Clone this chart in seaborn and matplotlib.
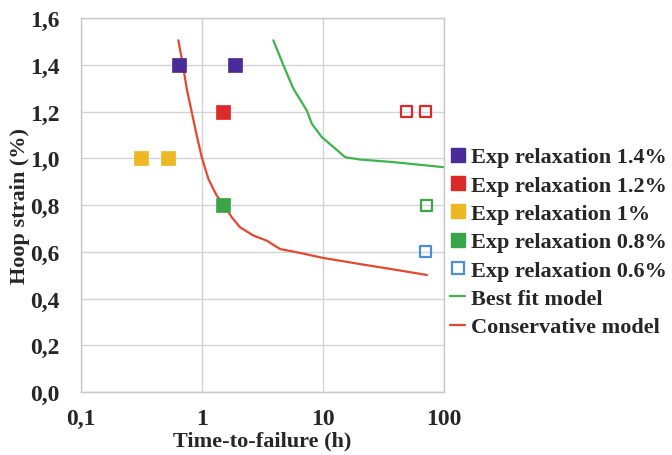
import matplotlib
matplotlib.use("Agg")
import matplotlib.pyplot as plt
import seaborn as sns
import numpy as np
from matplotlib.lines import Line2D
from matplotlib.ticker import FixedLocator, FuncFormatter, LogLocator, NullFormatter

# ---- data ----
exp14_t = [0.65, 1.88]
exp14_s = [1.4, 1.4]
exp12_t = [1.48]
exp12_s = [1.2]
exp12_open_t = [49.0, 70.0]
exp12_open_s = [1.2, 1.2]
exp10_t = [0.315, 0.52]
exp10_s = [1.0, 1.0]
exp08_t = [1.5]
exp08_s = [0.8]
exp08_open_t = [72.0]
exp08_open_s = [0.8]
exp06_open_t = [70.0]
exp06_open_s = [0.6]

best_t = [3.88, 4.70, 5.68, 7.33, 8.07, 9.75, 12.2, 15.2, 20.2, 38.1, 100.0]
best_s = [1.505, 1.398, 1.298, 1.205, 1.148, 1.091, 1.048, 1.005, 0.995, 0.984, 0.962]
cons_t = [0.637, 0.692, 0.747, 0.822, 0.904, 0.994, 1.128, 1.32, 1.50, 1.76, 2.06, 2.65, 3.42, 4.41,
          6.5, 10.0, 20.0, 40.0, 72.0]
cons_s = [1.505, 1.405, 1.298, 1.198, 1.098, 1.005, 0.912, 0.841, 0.805, 0.748, 0.705, 0.670, 0.648, 0.612,
          0.595, 0.574, 0.548, 0.523, 0.501]

legend_labels = ["Exp relaxation 1.4%", "Exp relaxation 1.2%", "Exp relaxation 1%",
                 "Exp relaxation 0.8%", "Exp relaxation 0.6%", "Best fit model", "Conservative model"]
y_ticks = [0.0, 0.2, 0.4, 0.6, 0.8, 1.0, 1.2, 1.4, 1.6]
x_ticks = [0.1, 1, 10, 100]

c_purple = "#4a2c98"
c_red = "#dc2a2b"
c_yellow = "#edb823"
c_green = "#3aa547"
c_blue = "#4a90d8"
c_bestline = "#3db54a"
c_consline = "#e6472f"

sns.set_style("white")
plt.rcParams['font.family'] = ['Liberation Serif', 'DejaVu Serif']
plt.rcParams['font.weight'] = 'bold'

fig = plt.figure(figsize=(6.72, 4.56), dpi=100)
ax = fig.add_axes([0.1205, 0.138, 0.5405, 0.82])

sns.lineplot(x=best_t, y=best_s, ax=ax, color=c_bestline, lw=1.6, sort=False, estimator=None)
sns.lineplot(x=cons_t, y=cons_s, ax=ax, color=c_consline, lw=1.6, sort=False, estimator=None)

ms = 95
sns.scatterplot(x=exp14_t, y=exp14_s, ax=ax, marker='s', s=ms, color=c_purple, edgecolor=c_purple, linewidth=0.5, zorder=5)
sns.scatterplot(x=exp12_t, y=exp12_s, ax=ax, marker='s', s=ms, color=c_red, edgecolor=c_red, linewidth=0.5, zorder=5)
sns.scatterplot(x=exp10_t, y=exp10_s, ax=ax, marker='s', s=ms, color=c_yellow, edgecolor=c_yellow, linewidth=0.5, zorder=5)
sns.scatterplot(x=exp08_t, y=exp08_s, ax=ax, marker='s', s=ms, color=c_green, edgecolor=c_green, linewidth=0.5, zorder=5)
sns.scatterplot(x=exp12_open_t, y=exp12_open_s, ax=ax, marker='s', s=64, facecolor='none', edgecolor=c_red, linewidth=1.6, zorder=5)
sns.scatterplot(x=exp08_open_t, y=exp08_open_s, ax=ax, marker='s', s=64, facecolor='none', edgecolor=c_green, linewidth=1.6, zorder=5)
sns.scatterplot(x=exp06_open_t, y=exp06_open_s, ax=ax, marker='s', s=64, facecolor='none', edgecolor=c_blue, linewidth=1.6, zorder=5)

ax.set_xscale('log')
ax.set_xlim(0.1, 100)
ax.set_ylim(0, 1.6)
ax.xaxis.set_major_locator(FixedLocator(x_ticks))
ax.xaxis.set_major_formatter(FuncFormatter(lambda v, p: ("%g" % v).replace('.', ',')))
ax.xaxis.set_minor_locator(LogLocator(base=10, subs=np.arange(2, 10)))
ax.xaxis.set_minor_formatter(NullFormatter())
ax.yaxis.set_major_locator(FixedLocator(y_ticks))
ax.yaxis.set_major_formatter(FuncFormatter(lambda v, p: ("%.1f" % v).replace('.', ',')))
ax.yaxis.set_minor_locator(FixedLocator(np.arange(0.1, 1.6, 0.2)))

ax.grid(True, which='major', color='#d4d4d8', lw=1.0)
for s in ax.spines.values():
    s.set_color('#c8c8cc')
    s.set_linewidth(1.0)
ax.tick_params(axis='both', which='major', direction='inout', length=7, width=1, color='#b8b8bc',
               labelsize=17)
ax.tick_params(axis='both', which='minor', direction='inout', length=5, width=1, color='#b8b8bc')
ax.tick_params(axis='x', which='major', pad=8)
ax.tick_params(axis='y', which='major', pad=12)
for lab in ax.get_xticklabels() + ax.get_yticklabels():
    lab.set_fontweight('bold')

ax.set_xlabel("Time-to-failure (h)", fontsize=16, fontweight='bold', labelpad=1)
ax.set_ylabel("Hoop strain (%)", fontsize=16, fontweight='bold', labelpad=0)

handles = [
    Line2D([], [], ls='none', marker='s', ms=9.5, color=c_purple),
    Line2D([], [], ls='none', marker='s', ms=9.5, color=c_red),
    Line2D([], [], ls='none', marker='s', ms=9.5, color=c_yellow),
    Line2D([], [], ls='none', marker='s', ms=9.5, color=c_green),
    Line2D([], [], ls='none', marker='s', ms=8.5, markerfacecolor='none', markeredgecolor=c_blue, mew=1.6),
    Line2D([], [], color=c_bestline, lw=1.6),
    Line2D([], [], color=c_consline, lw=1.6),
]
leg = fig.legend(handles, legend_labels, loc='upper left', bbox_to_anchor=(0.653, 0.70),
                 frameon=False, fontsize=16, handlelength=0.7, handletextpad=0.25,
                 labelspacing=0.35, borderpad=0)
for t in leg.get_texts():
    t.set_fontweight('bold')

fig.savefig("out.png", dpi=100)
